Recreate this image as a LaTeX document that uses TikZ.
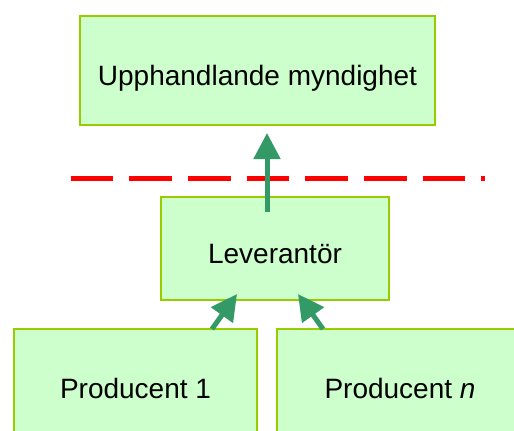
\documentclass[tikz,border=0pt]{standalone}
\usepackage{fontspec}
\setmainfont{Liberation Sans}
\usetikzlibrary{arrows.meta,calc}
\definecolor{boxfill}{HTML}{CCFFCC}
\definecolor{boxline}{HTML}{99CC00}
\definecolor{flow}{HTML}{339966}
\definecolor{cut}{HTML}{FF0000}
\begin{document}
\begin{tikzpicture}[x=0.75pt,y=-0.75pt,
  party/.style={draw=boxline,fill=boxfill,line width=1.5pt,inner sep=0pt,outer sep=0pt,
    font=\fontsize{21}{25}\selectfont,text height=22.5pt,text depth=0pt},
  flowarrow/.style={draw=flow,line width=3.75pt,
    -{Triangle[width=19.5pt,length=19.5pt]}},
  boundary/.style={draw=cut,line width=3.75pt,dash pattern=on 32pt off 12pt}]
\useasboundingbox (0,0) rectangle (514,430);
% parties in the supply chain
\node[party,minimum width=266.25pt,minimum height=81.75pt] (buyer) at (257.5,70.5) {Upphandlande myndighet};
\node[party,minimum width=171pt,minimum height=77.25pt] (supplier) at (275,248.5) {Leverantör};
\node[party,minimum width=182.25pt,minimum height=81pt] (prod1) at (135.5,383) {Producent 1};
\node[party,minimum width=184.5pt,minimum height=81pt] (prodn) at (400,383) {Producent \textit{n}};
% contract boundary
\coordinate (cutL) at (70.7,178);
\coordinate (cutR) at (484.5,178);
\draw[boundary] (cutL) -- (cutR);
% deliveries
\draw[flowarrow] ($(supplier.north)+(-8,15)$) -- ($(buyer.south)+(9.5,8)$);
\draw[flowarrow] ($(prod1.north)+(76.5,0)$) -- ($(supplier.south)+(-38,-6)$);
\draw[flowarrow] ($(prodn.north)+(-77,0)$) -- ($(supplier.south)+(23,-6)$);
\end{tikzpicture}
\end{document}
